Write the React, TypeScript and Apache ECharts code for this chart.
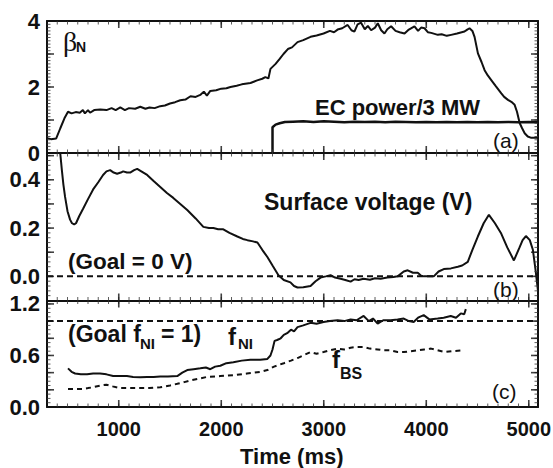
import { useEffect, useRef } from "react";
import * as echarts from "echarts";

const SANS = '"Liberation Sans", Arial, Helvetica, sans-serif';
const SERIF = '"Liberation Serif", "DejaVu Serif", serif';
const INK = "#111";

// Time axis (ms)
const timeMin = 300;
const timeMax = 5090;
const timeMajorStep = 1000;
const timeMinorStep = 100;
const timeTicks = [1000, 2000, 3000, 4000, 5000];

// (a) normalized beta and EC power / 3 MW
const betaN: [number, number][] = [
  [300, 0.45], [340, 0.42], [390, 0.44], [430, 0.75], [470, 1.05], [505, 1.25], [540, 1.2],
  [580, 1.24], [620, 1.22], [650, 1.3], [670, 1.2], [700, 1.3], [720, 1.22], [760, 1.3],
  [820, 1.32], [880, 1.3], [930, 1.36], [970, 1.3], [1015, 1.38], [1060, 1.3], [1100, 1.36],
  [1160, 1.34], [1210, 1.4], [1260, 1.34], [1300, 1.38], [1350, 1.36], [1405, 1.42],
  [1450, 1.44], [1500, 1.5], [1550, 1.54], [1600, 1.6], [1650, 1.62], [1700, 1.72],
  [1750, 1.7], [1795, 1.76], [1830, 1.86], [1860, 1.74], [1893, 1.88], [1950, 1.9],
  [2000, 1.95], [2050, 1.96], [2090, 2.0], [2150, 2.04], [2200, 2.08], [2285, 2.12],
  [2350, 2.2], [2400, 2.25], [2430, 2.3], [2460, 2.26], [2480, 2.55], [2530, 2.7],
  [2570, 2.85], [2607, 3.0], [2650, 3.15], [2690, 3.2], [2744, 3.36], [2800, 3.42],
  [2871, 3.52], [2930, 3.56], [2998, 3.62], [3060, 3.7], [3100, 3.66], [3135, 3.74],
  [3180, 3.78], [3233, 3.88], [3270, 3.72], [3299, 3.68], [3330, 3.9], [3364, 3.95],
  [3400, 3.75], [3430, 3.85], [3462, 3.72], [3500, 3.8], [3527, 3.93], [3560, 3.72],
  [3592, 3.62], [3620, 3.75], [3657, 3.84], [3700, 3.7], [3740, 3.66], [3788, 3.62],
  [3830, 3.74], [3885, 3.84], [3920, 3.7], [3950, 3.8], [3983, 3.78], [4015, 3.66],
  [4048, 3.64], [4113, 3.58], [4150, 3.6], [4200, 3.55], [4243, 3.58], [4300, 3.62],
  [4373, 3.68], [4400, 3.74], [4422, 3.78], [4450, 3.7], [4471, 3.52], [4504, 3.02],
  [4540, 2.75], [4569, 2.51], [4600, 2.35], [4634, 2.21], [4680, 2.02], [4732, 1.81],
  [4760, 1.7], [4797, 1.61], [4830, 1.55], [4862, 1.46], [4885, 1.25], [4911, 0.91],
  [4935, 0.75], [4960, 0.6], [4990, 0.5], [5025, 0.46], [5090, 0.46],
];

const ecPower: [number, number][] = [
  [2500, 0], [2500, 0.78], [2530, 0.86], [2570, 0.9], [2620, 0.94], [2700, 0.95],
  [2800, 0.96], [2900, 0.94], [3000, 0.96], [3100, 0.95], [3200, 0.93], [3300, 0.95],
  [3400, 0.94], [3500, 0.95], [3600, 0.93], [3700, 0.95], [3800, 0.94], [3900, 0.93],
  [4000, 0.94], [4100, 0.93], [4200, 0.94], [4300, 0.93], [4400, 0.94], [4500, 0.93],
  [4600, 0.94], [4700, 0.93], [4800, 0.94], [4900, 0.93], [5000, 0.94], [5090, 0.93],
];

// (b) surface voltage (V)
const surfaceVoltage: [number, number][] = [
  [427, 0.52], [445, 0.44], [460, 0.38], [476, 0.33], [500, 0.27], [525, 0.235], [544, 0.22],
  [565, 0.215], [583, 0.22], [615, 0.25], [652, 0.28], [700, 0.32], [750, 0.36], [800, 0.39],
  [847, 0.42], [880, 0.435], [916, 0.44], [950, 0.43], [984, 0.425], [1020, 0.43],
  [1043, 0.435], [1080, 0.43], [1111, 0.43], [1150, 0.44], [1180, 0.445], [1220, 0.435],
  [1277, 0.42], [1340, 0.395], [1405, 0.37], [1470, 0.345], [1532, 0.325], [1600, 0.3],
  [1668, 0.275], [1750, 0.24], [1825, 0.205], [1880, 0.2], [1923, 0.2], [1970, 0.195],
  [2020, 0.195], [2080, 0.18], [2157, 0.165], [2210, 0.155], [2255, 0.15], [2310, 0.145],
  [2353, 0.14], [2400, 0.11], [2450, 0.08], [2500, 0.045], [2558, 0.005], [2610, -0.015],
  [2675, -0.025], [2710, -0.04], [2744, -0.046], [2800, -0.045], [2871, -0.04],
  [2920, -0.02], [2969, -0.005], [3020, 0.0], [3066, 0.005], [3110, -0.005], [3164, -0.01],
  [3210, -0.015], [3262, -0.022], [3300, -0.012], [3340, -0.015], [3389, -0.01],
  [3450, -0.014], [3500, -0.008], [3555, -0.01], [3620, -0.005], [3680, -0.003],
  [3721, 0.0], [3780, 0.02], [3819, 0.025], [3870, 0.015], [3917, 0.015], [3950, 0.003],
  [3975, 0.0], [4030, 0.0], [4073, 0.0], [4120, 0.02], [4171, 0.03], [4240, 0.033],
  [4308, 0.04], [4350, 0.045], [4405, 0.06], [4450, 0.11], [4503, 0.165], [4560, 0.22],
  [4611, 0.255], [4670, 0.22], [4728, 0.18], [4790, 0.12], [4855, 0.066], [4910, 0.12],
  [4940, 0.15], [4972, 0.167], [5010, 0.15], [5040, 0.11], [5065, 0.03], [5090, -0.06],
];
const goalVoltage = 0;

// (c) non-inductive and bootstrap current fractions
const fNI: [number, number][] = [
  [505, 0.45], [540, 0.41], [574, 0.39], [630, 0.38], [691, 0.38], [750, 0.39], [818, 0.39],
  [880, 0.38], [945, 0.36], [1013, 0.36], [1080, 0.36], [1140, 0.35], [1210, 0.345],
  [1277, 0.35], [1340, 0.35], [1405, 0.355], [1480, 0.355], [1571, 0.36], [1620, 0.4],
  [1668, 0.43], [1730, 0.44], [1796, 0.45], [1850, 0.46], [1893, 0.44], [1940, 0.47],
  [1991, 0.48], [2050, 0.51], [2118, 0.52], [2200, 0.54], [2284, 0.55], [2380, 0.55],
  [2450, 0.56], [2480, 0.6], [2500, 0.67], [2520, 0.77], [2545, 0.78], [2580, 0.8],
  [2610, 0.84], [2643, 0.86], [2680, 0.9], [2710, 0.88], [2744, 0.93], [2800, 0.95],
  [2871, 0.98], [2930, 0.97], [2998, 0.99], [3060, 1.0], [3135, 1.01], [3200, 1.0],
  [3262, 1.02], [3320, 1.01], [3389, 1.06], [3440, 1.0], [3480, 1.03], [3526, 0.97],
  [3580, 1.01], [3653, 1.01], [3720, 1.02], [3780, 1.03], [3830, 1.0], [3877, 0.99],
  [3920, 1.04], [3975, 1.07], [4030, 1.02], [4112, 1.03], [4170, 1.04], [4239, 1.06],
  [4290, 1.04], [4337, 1.09], [4370, 1.08], [4386, 1.14],
];
const fBS: [number, number][] = [
  [505, 0.21], [580, 0.21], [647, 0.21], [700, 0.22], [750, 0.23], [820, 0.25], [880, 0.26],
  [940, 0.24], [1013, 0.22], [1100, 0.22], [1210, 0.22], [1300, 0.22], [1405, 0.23],
  [1500, 0.25], [1571, 0.27], [1640, 0.29], [1700, 0.31], [1780, 0.33], [1860, 0.35],
  [1990, 0.36], [2118, 0.37], [2250, 0.39], [2385, 0.41], [2450, 0.43], [2515, 0.47],
  [2610, 0.51], [2680, 0.54], [2744, 0.57], [2800, 0.6], [2871, 0.64], [2930, 0.62],
  [2998, 0.64], [3060, 0.66], [3135, 0.68], [3200, 0.67], [3262, 0.69], [3330, 0.7],
  [3389, 0.7], [3450, 0.68], [3526, 0.67], [3590, 0.66], [3653, 0.66], [3720, 0.64],
  [3780, 0.64], [3850, 0.65], [3917, 0.66], [3980, 0.67], [4047, 0.68], [4110, 0.66],
  [4178, 0.64], [4250, 0.65], [4370, 0.66],
];
const goalFNI = 1;

// Panel layout and value-axis settings (major step, minor step, label every n-th major)
const panels = [
  { top: 21, height: 132, min: 0, max: 4, major: 1, minor: 0.1, labelEvery: 2, digits: 0 },
  { top: 153, height: 147.5, min: -0.1, max: 0.511, major: 0.1, minor: 0.02, labelEvery: 2, digits: 1 },
  { top: 300.5, height: 106.5, min: 0, max: 1.24, major: 0.2, minor: 0.05, labelEvery: 3, digits: 1 },
];

// tick values from lo up to hi in steps of `step`
function stepsBetween(lo: number, hi: number, step: number): number[] {
  const out: number[] = [];
  const first = Math.ceil(lo / step - 1e-9);
  for (let k = first; k * step <= hi + 1e-9; k++) out.push(Math.round(k * step * 1e6) / 1e6);
  return out;
}

// Annotation placed with its left edge at x and its text middle at y
function note(x: number, y: number, str: string, size: number, weight = "bold", family = SANS) {
  return {
    text: str,
    left: x,
    top: y - size / 2,
    padding: 0,
    textStyle: { color: INK, fontSize: size, fontWeight: weight, fontFamily: family, lineHeight: size },
  };
}

const frameLine = () => ({ show: true, onZero: false, lineStyle: { color: INK, width: 2 } });
const noLine = () => ({ show: false, onZero: false });

function buildOption() {
  const grid = panels.map((p) => ({
    left: 47,
    right: 15,
    top: p.top,
    height: p.height,
    show: false,
    outerBoundsMode: "none",
  }));

  const xAxis: any[] = [];
  const yAxis: any[] = [];
  const dataX: number[] = [];
  const dataY: number[] = [];

  panels.forEach((p, i) => {
    const xBase = { type: "value", gridIndex: i, min: timeMin, max: timeMax, splitLine: { show: false } };
    const yBase = { type: "value", gridIndex: i, min: p.min, max: p.max, splitLine: { show: false } };

    // panel frame (data are plotted on the bottom / left axes)
    dataX.push(xAxis.length);
    for (const pos of ["bottom", "top"]) {
      xAxis.push({ ...xBase, position: pos, splitNumber: 5, axisLine: frameLine(), axisTick: { show: false }, axisLabel: { show: false } });
    }
    dataY.push(yAxis.length);
    for (const pos of ["left", "right"]) {
      yAxis.push({ ...yBase, position: pos, interval: p.major, axisLine: frameLine(), axisTick: { show: false }, axisLabel: { show: false } });
    }

    // tick labels
    yAxis.push({
      ...yBase,
      position: "left",
      interval: p.major,
      axisLine: noLine(),
      axisTick: { show: false },
      axisLabel: {
        show: true,
        margin: 7,
        color: INK,
        fontFamily: SANS,
        fontWeight: "bold",
        fontSize: 22,
        formatter: (v: number) => {
          const k = Math.round(v / p.major);
          if (Math.abs(v - k * p.major) > 1e-6 || k % p.labelEvery !== 0 || v < -1e-9) return "";
          return (k * p.major).toFixed(p.digits);
        },
      },
    });
    if (i === panels.length - 1) {
      xAxis.push({
        ...xBase,
        position: "bottom",
        splitNumber: 5,
        axisLine: noLine(),
        axisTick: { show: false },
        axisLabel: {
          show: true,
          margin: 12,
          color: INK,
          fontFamily: SANS,
          fontWeight: "bold",
          fontSize: 20,
          formatter: (v: number) => (timeTicks.includes(Math.round(v)) ? String(Math.round(v)) : ""),
        },
      });
    }
  });

  const solid = (extra: any = {}) => ({ color: INK, width: 2, ...extra });
  const line = (name: string, panel: number, data: [number, number][], style: any) => ({
    name,
    type: "line",
    xAxisIndex: dataX[panel],
    yAxisIndex: dataY[panel],
    data,
    showSymbol: false,
    lineStyle: style,
  });

  // inward tick marks on all four sides of a panel, placed through the panel's own axes
  const tickMarks = (panel: number, step: number, yStep: number, len: number, width: number, color: string) => {
    const p = panels[panel];
    const xs = stepsBetween(timeMin, timeMax, step).filter((t) => t > timeMin && t < timeMax);
    const ys = stepsBetween(p.min, p.max, yStep).filter((v) => v > p.min + 1e-9 && v < p.max - 1e-9);
    const base = {
      type: "scatter",
      xAxisIndex: dataX[panel],
      yAxisIndex: dataY[panel],
      symbol: "rect",
      silent: true,
      clip: false,
      z: 3,
      itemStyle: { color },
    };
    return [
      { ...base, data: xs.map((t) => [t, p.min]), symbolSize: [width, len], symbolOffset: [0, -len / 2] },
      { ...base, data: xs.map((t) => [t, p.max]), symbolSize: [width, len], symbolOffset: [0, len / 2] },
      { ...base, data: ys.map((v) => [timeMin, v]), symbolSize: [len, width], symbolOffset: [len / 2, 0] },
      { ...base, data: ys.map((v) => [timeMax, v]), symbolSize: [len, width], symbolOffset: [-len / 2, 0] },
    ];
  };

  const series: any[] = [
    line("betaN", 0, betaN, solid()),
    line("EC power", 0, ecPower, solid({ width: 2.5 })),
    line("Goal V", 1, [[timeMin, goalVoltage], [timeMax, goalVoltage]], solid({ type: [6, 4] })),
    line("Surface voltage", 1, surfaceVoltage, solid()),
    line("Goal fNI", 2, [[timeMin, goalFNI], [timeMax, goalFNI]], solid({ type: [6, 4] })),
    line("fNI", 2, fNI, solid()),
    line("fBS", 2, fBS, solid({ type: [5, 4] })),
  ];
  panels.forEach((p, i) => {
    series.push(...tickMarks(i, timeMinorStep, p.minor, 3.5, 1, "#333"));
    series.push(...tickMarks(i, timeMajorStep, p.major, 7, 1.6, INK));
  });

  const title = [
    note(63, 41, "β", 28, "normal", SERIF),
    note(76, 47, "N", 14),
    note(315, 107.5, "EC power/3 MW", 22),
    note(493, 140, "(a)", 21, "normal"),
    note(264, 202, "Surface voltage (V)", 23),
    note(68, 261, "(Goal = 0 V)", 22.5),
    note(493, 289, "(b)", 21, "normal"),
    note(68, 334, "(Goal f", 23),
    note(140, 343.5, "NI", 15),
    note(161, 334, "= 1)", 23),
    note(228, 336, "f", 24),
    note(238, 343.5, "NI", 15),
    note(332, 359, "f", 24),
    note(340, 373, "BS", 16),
    note(492, 391, "(c)", 21, "normal"),
    note(240, 456, "Time (ms)", 22),
  ];

  return { animation: false, backgroundColor: "#fff", title, grid, xAxis, yAxis, series };
}

export default function App() {
  const ref = useRef<HTMLDivElement>(null);
  useEffect(() => {
    if (!ref.current) return;
    const chart = echarts.init(ref.current, undefined, { renderer: "svg" });
    chart.setOption(buildOption() as any);
    return () => chart.dispose();
  }, []);
  return (
    <div
      ref={ref}
      style={{ position: "absolute", left: 0, top: 0, width: 553, height: 468, background: "#fff" }}
    />
  );
}
